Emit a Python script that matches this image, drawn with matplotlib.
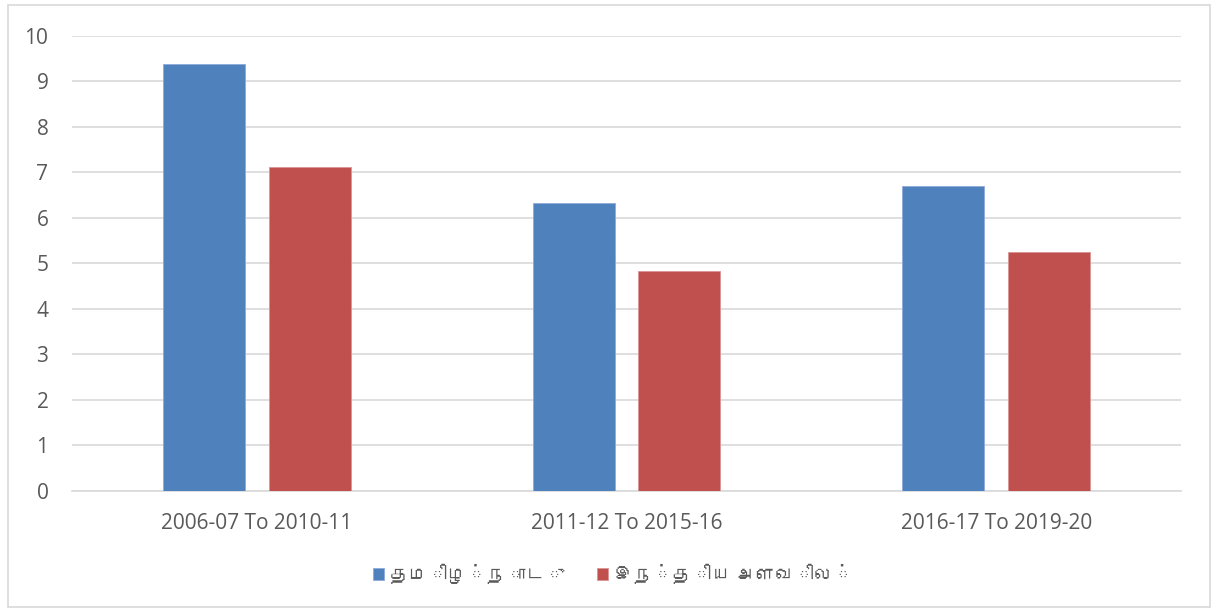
import matplotlib
matplotlib.use("Agg")
import matplotlib.pyplot as plt
from matplotlib import font_manager
from matplotlib.ft2font import FT2Font
from matplotlib.patches import Rectangle

categories = ["2006-07 To 2010-11", "2011-12 To 2015-16", "2016-17 To 2019-20"]
tamil_nadu = [9.38, 6.32, 6.70]
india = [7.12, 4.84, 5.25]
series_names = ["தமிழ்நாடு", "இந்திய அளவில்"]

# look for an installed font that has Tamil glyphs
tamil_fonts = []
for path in font_manager.findSystemFonts():
    try:
        f = FT2Font(path)
        if 0x0BA4 in f.get_charmap():
            tamil_fonts.append(font_manager.FontProperties(fname=path).get_name())
    except Exception:
        pass

plt.rcParams['font.family'] = ['Open Sans'] + tamil_fonts + ['DejaVu Sans']

fig = plt.figure(figsize=(12.27, 6.08), dpi=100)
ax = fig.add_axes([72 / 1227, 1 - 491 / 608, 1109 / 1227, (491 - 35.7) / 608])

x = range(len(categories))
w = 0.222
off = 0.143
ax.bar([i - off for i in x], tamil_nadu, w, color="#4F81BD", edgecolor="#8EAADB", linewidth=0.6,
       label=series_names[0], zorder=3)
ax.bar([i + off for i in x], india, w, color="#C0504D", edgecolor="#D99594", linewidth=0.6,
       label=series_names[1], zorder=3)

ax.set_xlim(-0.5, 2.5)
ax.set_ylim(0, 10)
ax.set_yticks(range(0, 11))
ax.set_xticks(list(x))
ax.set_xticklabels(categories)
ax.grid(axis="y", color="#D9D9D9", linewidth=1.2, zorder=0)
for s in ["top", "right", "left"]:
    ax.spines[s].set_visible(False)
ax.spines["bottom"].set_color("#D9D9D9")
ax.spines["bottom"].set_linewidth(1.2)
ax.tick_params(axis="both", length=0, colors="#595959", labelsize=15)
ax.tick_params(axis="x", pad=16)
ax.tick_params(axis="y", pad=17)

fig.legend(loc="center", bbox_to_anchor=(613 / 1227, 1 - 575 / 608), ncol=2, frameon=False,
           fontsize=14, handlelength=0.6, handleheight=0.6, handletextpad=0.3, columnspacing=1.6,
           labelcolor="#595959")

fig.patches.append(Rectangle((8 / 1227, 0.002), 1202 / 1227, 1 - 5 / 608 - 0.002,
                             transform=fig.transFigure, fill=False, edgecolor="#D9D9D9", linewidth=1.2))

fig.savefig("out.png", dpi=100)
